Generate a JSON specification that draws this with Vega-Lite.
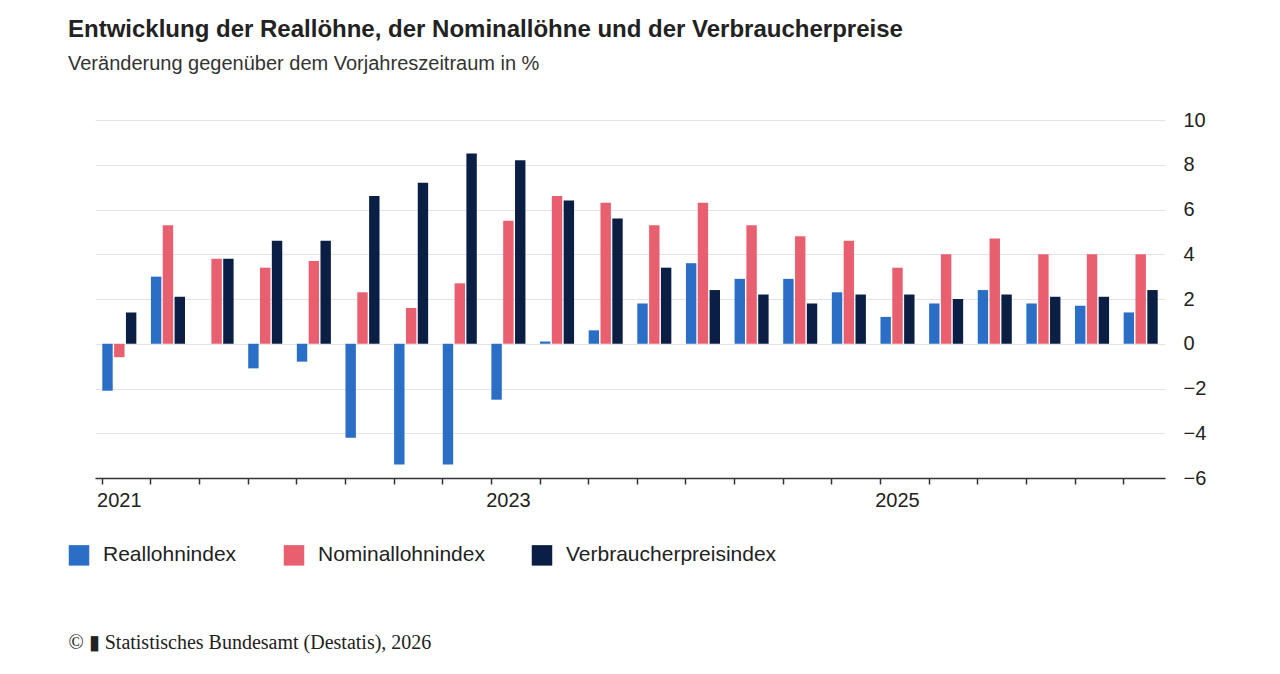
{"$schema":"https://vega.github.io/schema/vega-lite/v6.json","autosize":"none","width":1070,"height":358,"padding":{"left":95,"top":120,"right":115,"bottom":196},"background":"white",
"title":{"text":"Entwicklung der Reallöhne, der Nominallöhne und der Verbraucherpreise","subtitle":"Veränderung gegenüber dem Vorjahreszeitraum in %","anchor":"start","dx":0,"offset":36,"font":"Liberation Sans","fontSize":24,"fontWeight":"bold","color":"#222","subtitleFont":"Liberation Sans","subtitleFontSize":20,"subtitleColor":"#333","subtitlePadding":12},
"data":{"values":[
{"q":"2021Q1","R":-2.1,"N":-0.6,"V":1.4},{"q":"2021Q2","R":3.0,"N":5.3,"V":2.1},{"q":"2021Q3","R":0.0,"N":3.8,"V":3.8},{"q":"2021Q4","R":-1.1,"N":3.4,"V":4.6},
{"q":"2022Q1","R":-0.8,"N":3.7,"V":4.6},{"q":"2022Q2","R":-4.2,"N":2.3,"V":6.6},{"q":"2022Q3","R":-5.4,"N":1.6,"V":7.2},{"q":"2022Q4","R":-5.4,"N":2.7,"V":8.5},
{"q":"2023Q1","R":-2.5,"N":5.5,"V":8.2},{"q":"2023Q2","R":0.1,"N":6.6,"V":6.4},{"q":"2023Q3","R":0.6,"N":6.3,"V":5.6},{"q":"2023Q4","R":1.8,"N":5.3,"V":3.4},
{"q":"2024Q1","R":3.6,"N":6.3,"V":2.4},{"q":"2024Q2","R":2.9,"N":5.3,"V":2.2},{"q":"2024Q3","R":2.9,"N":4.8,"V":1.8},{"q":"2024Q4","R":2.3,"N":4.6,"V":2.2},
{"q":"2025Q1","R":1.2,"N":3.4,"V":2.2},{"q":"2025Q2","R":1.8,"N":4.0,"V":2.0},{"q":"2025Q3","R":2.4,"N":4.7,"V":2.2},{"q":"2025Q4","R":1.8,"N":4.0,"V":2.1},
{"q":"2026Q1","R":1.7,"N":4.0,"V":2.1},{"q":"2026Q2","R":1.4,"N":4.0,"V":2.4}]},
"transform":[{"fold":["R","N","V"],"as":["k","val"]},{"calculate":"datum.k=='R'?'Reallohnindex':datum.k=='N'?'Nominallohnindex':'Verbraucherpreisindex'","as":"serie"}],
"mark":{"type":"bar"},
"encoding":{
"x":{"field":"q","type":"ordinal","scale":{"paddingInner":0.3,"paddingOuter":0.15},"axis":{"title":"© ▮ Statistisches Bundesamt (Destatis), 2026","titleFont":"Liberation Serif","titleFontSize":20,"titleFontWeight":"normal","titleColor":"#222","titleAnchor":"start","titleX":-27,"titlePadding":122,"labelAngle":0,"bandPosition":0,"labelAlign":"center","labelFont":"Liberation Sans","labelFontSize":20,"labelColor":"#222","labelPadding":6,"labelExpr":"(datum.value=='2021Q1'||datum.value=='2023Q1'||datum.value=='2025Q1')?slice(datum.value,0,4):''","domainColor":"#333","domainWidth":1.5,"tickColor":"#333","tickWidth":1.5,"tickSize":6,"encode":{"ticks":{"update":{"y2":{"signal":"indexof(datum.value,'Q1')>=0 ? 14 : 8"}}}}}},
"xOffset":{"field":"serie","type":"nominal","sort":["Reallohnindex","Nominallohnindex","Verbraucherpreisindex"],"scale":{"paddingInner":0.12}},
"y":{"field":"val","type":"quantitative","scale":{"domain":[-6,10]},"axis":{"orient":"right","title":null,"values":[-6,-4,-2,0,2,4,6,8,10],"labelFont":"Liberation Sans","labelFontSize":20,"labelColor":"#222","labelPadding":18,"ticks":false,"domain":false,"gridColor":"#e3e3e3"}},
"color":{"field":"serie","type":"nominal","sort":["Reallohnindex","Nominallohnindex","Verbraucherpreisindex"],"scale":{"range":["#2A6EC6","#E8606F","#0B1F45"]},"legend":{"title":null,"orient":"none","legendX":-27,"legendY":424,"direction":"horizontal","symbolType":"square","symbolSize":420,"labelFont":"Liberation Sans","labelFontSize":21,"labelColor":"#222","labelLimit":0,"labelOffset":13,"columnPadding":46,"symbolOpacity":1}}
},
"config":{"view":{"stroke":null}}}
